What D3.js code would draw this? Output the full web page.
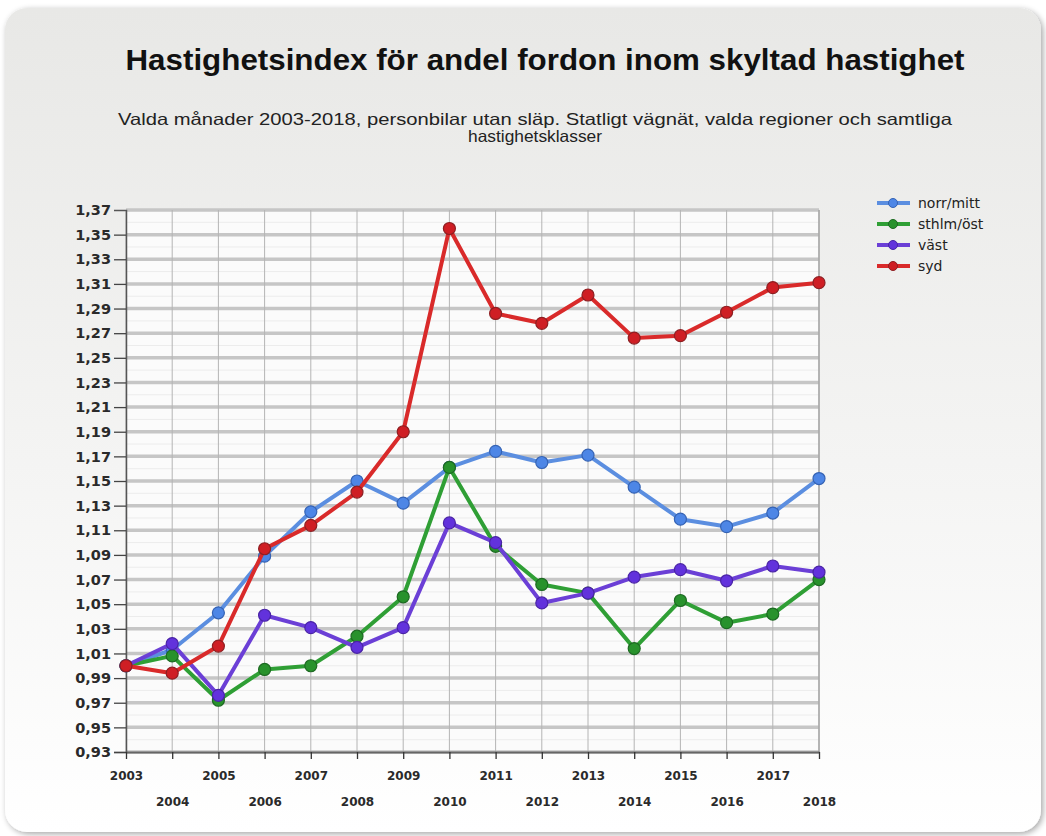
<!DOCTYPE html>
<html>
<head>
<meta charset="utf-8">
<script src="https://cdn.jsdelivr.net/npm/d3@7"></script>
<style>
  html, body { margin: 0; padding: 0; background: #ffffff; }
  svg { display: block; }
</style>
</head>
<body>
<svg id="chart" width="1046" height="836"></svg>
<script>
"use strict";

// data
const years = [2003, 2004, 2005, 2006, 2007, 2008, 2009, 2010, 2011, 2012, 2013, 2014, 2015, 2016, 2017, 2018];
const seriesNames = ["norr/mitt", "sthlm/öst", "väst", "syd"];
const norrMitt = [1.000, 1.013, 1.043, 1.089, 1.125, 1.150, 1.132, 1.161, 1.174, 1.165, 1.171, 1.145, 1.119, 1.113, 1.124, 1.152];
const sthlmOst = [1.000, 1.008, 0.972, 0.997, 1.000, 1.024, 1.056, 1.161, 1.097, 1.066, 1.059, 1.014, 1.053, 1.035, 1.042, 1.070];
const vast     = [1.000, 1.018, 0.976, 1.041, 1.031, 1.015, 1.031, 1.116, 1.100, 1.051, 1.059, 1.072, 1.078, 1.069, 1.081, 1.076];
const syd      = [1.000, 0.994, 1.016, 1.095, 1.114, 1.141, 1.190, 1.355, 1.286, 1.278, 1.301, 1.266, 1.268, 1.287, 1.307, 1.311];
const yTickValues = [0.93, 0.95, 0.97, 0.99, 1.01, 1.03, 1.05, 1.07, 1.09, 1.11, 1.13, 1.15, 1.17, 1.19,
                     1.21, 1.23, 1.25, 1.27, 1.29, 1.31, 1.33, 1.35, 1.37];

const lineColors   = ["#5b8ee0", "#2f9f35", "#6b3fd6", "#d92a2a"];
const markerFill   = ["#4d86e6", "#28922c", "#6232dc", "#cf1e24"];
const markerStroke = ["#3563b4", "#1d6a22", "#4a24a6", "#8e1f22"];

const svg = d3.select("#chart");
const sv = d3.formatLocale({ decimal: ",", thousands: " ", grouping: [3], currency: ["", " kr"] });

const margin = { left: 126, right: 819, top: 210, bottom: 752 };

const x = d3.scaleLinear().domain([2003, 2018]).range([margin.left, margin.right]);
const y = d3.scaleLinear().domain([0.93, 1.37]).range([margin.bottom, margin.top]);

// ---- background panel
const defs = svg.append("defs");
const bg = defs.append("linearGradient").attr("id", "panelGrad")
  .attr("x1", 0).attr("y1", 0).attr("x2", 0).attr("y2", 1);
bg.append("stop").attr("offset", "0%").attr("stop-color", "#e8e8e6");
bg.append("stop").attr("offset", "55%").attr("stop-color", "#f4f4f3");
bg.append("stop").attr("offset", "100%").attr("stop-color", "#ffffff");

const shadow = defs.append("filter").attr("id", "shadow")
  .attr("x", "-5%").attr("y", "-5%").attr("width", "110%").attr("height", "110%");
shadow.append("feGaussianBlur").attr("in", "SourceAlpha").attr("stdDeviation", 3);
shadow.append("feOffset").attr("dx", 2).attr("dy", 2).attr("result", "ob");
shadow.append("feComponentTransfer").append("feFuncA").attr("type", "linear").attr("slope", 0.35);
const merge = shadow.append("feMerge");
merge.append("feMergeNode");
merge.append("feMergeNode").attr("in", "SourceGraphic");

svg.append("rect")
  .attr("x", 5).attr("y", 8)
  .attr("width", 1036).attr("height", 824)
  .attr("rx", 22).attr("ry", 22)
  .attr("fill", "url(#panelGrad)")
  .attr("filter", "url(#shadow)");

// ---- titles (the reference is a little stretched sideways)
svg.append("text")
  .attr("x", 545).attr("y", 70)
  .attr("text-anchor", "middle")
  .attr("font-family", "Liberation Sans, Arial, sans-serif")
  .attr("font-weight", "bold")
  .attr("font-size", 29)
  .attr("fill", "#111")
  .attr("textLength", 839)
  .attr("lengthAdjust", "spacingAndGlyphs")
  .text("Hastighetsindex för andel fordon inom skyltad hastighet");

const subLines = [
  "Valda månader 2003-2018, personbilar utan släp. Statligt vägnät, valda regioner och samtliga",
  "hastighetsklasser"
];
const subWidths = [834, 134];
svg.append("g").selectAll("text").data(subLines).enter()
  .append("text")
  .attr("x", 535)
  .attr("y", (d, i) => 125 + i * 17)
  .attr("text-anchor", "middle")
  .attr("font-family", "Liberation Sans, Arial, sans-serif")
  .attr("font-size", 16.5)
  .attr("fill", "#222")
  .attr("textLength", (d, i) => subWidths[i])
  .attr("lengthAdjust", "spacingAndGlyphs")
  .text(d => d);

// ---- plot area
svg.append("rect")
  .attr("x", margin.left).attr("y", margin.top)
  .attr("width", margin.right - margin.left)
  .attr("height", margin.bottom - margin.top)
  .attr("fill", "#fbfbfb");

// minor horizontal lines between the labelled ones
const minor = yTickValues.slice(0, -1).map(v => v + 0.01);
svg.append("g").selectAll("line").data(minor).enter()
  .append("line")
  .attr("x1", margin.left).attr("x2", margin.right)
  .attr("y1", d => y(d)).attr("y2", d => y(d))
  .attr("stroke", "#ececec").attr("stroke-width", 1);

svg.append("g").selectAll("line").data(yTickValues).enter()
  .append("line")
  .attr("x1", margin.left).attr("x2", margin.right)
  .attr("y1", d => y(d)).attr("y2", d => y(d))
  .attr("stroke", "#c6c6c6").attr("stroke-width", 3.5);

svg.append("g").selectAll("line").data(years).enter()
  .append("line")
  .attr("x1", d => x(d)).attr("x2", d => x(d))
  .attr("y1", margin.top).attr("y2", margin.bottom)
  .attr("stroke", "#b4b4b4").attr("stroke-width", 1);

svg.append("line")
  .attr("x1", margin.right).attr("x2", margin.right)
  .attr("y1", margin.top).attr("y2", margin.bottom)
  .attr("stroke", "#a8a8a8").attr("stroke-width", 1.5);

// ---- axes
const yAxis = d3.axisLeft(y)
  .tickValues(yTickValues)
  .tickFormat(sv.format(".2f"))
  .tickSize(12)
  .tickPadding(3);

const yG = svg.append("g")
  .attr("transform", `translate(${margin.left},0)`)
  .call(yAxis);
yG.select(".domain").attr("stroke", "#555").attr("stroke-width", 1.5);
yG.selectAll(".tick line").attr("stroke", "#444").attr("stroke-width", 1.3)
  .attr("opacity", d => d === 1.37 ? 0 : 1);
yG.selectAll(".tick text")
  .attr("font-family", "DejaVu Sans, Verdana, sans-serif")
  .attr("font-weight", "bold")
  .attr("font-size", 14.5)
  .attr("fill", "#2a2a2a");

const xAxis = d3.axisBottom(x)
  .tickValues(years)
  .tickFormat(d3.format("d"))
  .tickSize(7)
  .tickSizeOuter(0);

const xG = svg.append("g")
  .attr("transform", `translate(0,${margin.bottom})`)
  .call(xAxis);
xG.select(".domain").attr("stroke", "#666").attr("stroke-width", 2);
xG.selectAll(".tick line").attr("stroke", "#333").attr("stroke-width", 1.3);
xG.selectAll(".tick text")
  .attr("font-family", "DejaVu Sans, Verdana, sans-serif")
  .attr("font-weight", "bold")
  .attr("font-size", 12)
  .attr("fill", "#2a2a2a")
  .attr("y", (d, i) => i % 2 === 0 ? 19 : 45);

// ---- series
const seriesData = [norrMitt, sthlmOst, vast, syd];
const line = d3.line()
  .x((d, i) => x(years[i]))
  .y(d => y(d));

seriesData.forEach((vals, s) => {
  const g = svg.append("g").attr("class", "series");
  g.append("path")
    .datum(vals)
    .attr("d", line)
    .attr("fill", "none")
    .attr("stroke", lineColors[s])
    .attr("stroke-width", 4)
    .attr("stroke-linejoin", "round");
  g.selectAll("circle").data(vals).enter()
    .append("circle")
    .attr("cx", (d, i) => x(years[i]))
    .attr("cy", d => y(d))
    .attr("r", 6)
    .attr("fill", markerFill[s])
    .attr("stroke", markerStroke[s])
    .attr("stroke-width", 1.2);
});

// ---- legend
const legend = svg.append("g").attr("transform", "translate(877,203)");
const item = legend.selectAll("g").data(seriesNames).enter()
  .append("g")
  .attr("transform", (d, i) => `translate(0,${i * 21})`);
item.append("line")
  .attr("x1", 0).attr("x2", 33).attr("y1", 0).attr("y2", 0)
  .attr("stroke", (d, i) => lineColors[i]).attr("stroke-width", 4);
item.append("circle")
  .attr("cx", 16).attr("cy", 0).attr("r", 4.5)
  .attr("fill", (d, i) => markerFill[i])
  .attr("stroke", (d, i) => markerStroke[i]);
item.append("text")
  .attr("x", 41).attr("y", 5)
  .attr("font-family", "DejaVu Sans, Verdana, sans-serif")
  .attr("font-size", 14)
  .attr("fill", "#222")
  .text(d => d);
</script>
</body>
</html>
